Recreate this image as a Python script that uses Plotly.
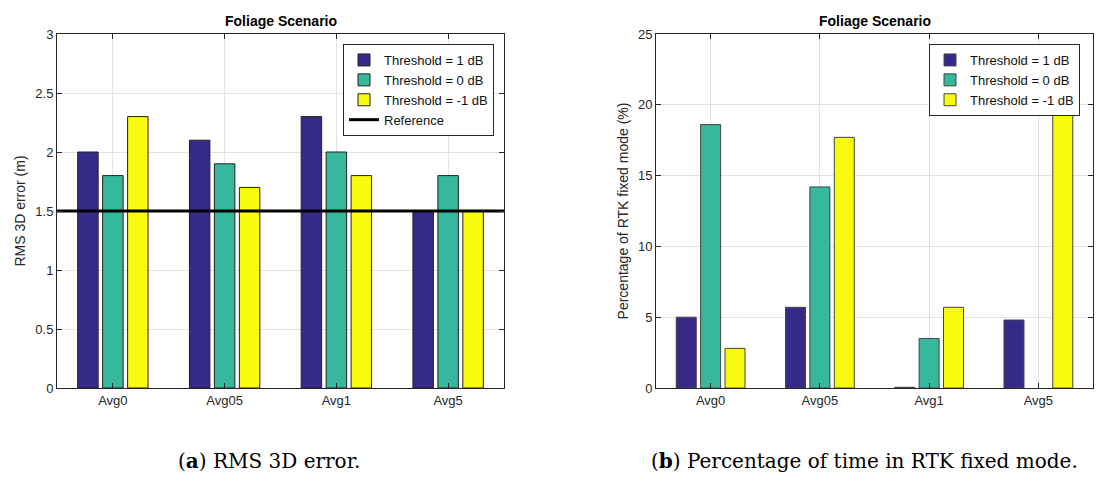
import plotly.graph_objects as go

categories = ["Avg0", "Avg05", "Avg1", "Avg5"]
series_names = ["Threshold = 1 dB", "Threshold = 0 dB", "Threshold = -1 dB"]
rms_1db = [2.0, 2.1, 2.3, 1.5]
rms_0db = [1.8, 1.9, 2.0, 1.8]
rms_m1db = [2.3, 1.7, 1.8, 1.5]
reference_rms = 1.5
rtk_1db = [5.0, 5.7, 0.05, 4.8]
rtk_0db = [18.6, 14.2, 3.5, None]
rtk_m1db = [2.8, 17.7, 5.7, 19.6]
rms_ticks = [0, 0.5, 1, 1.5, 2, 2.5, 3]
rtk_ticks = [0, 5, 10, 15, 20, 25]

colors = ["#352A87", "#37B89D", "#F9FB0E"]
xpos = list(range(len(categories)))

fig = go.Figure()
for name, vals, c in zip(series_names, [rms_1db, rms_0db, rms_m1db], colors):
    fig.add_trace(go.Bar(x=xpos, y=vals, name=name, marker=dict(color=c, line=dict(color="#222", width=1)),
                         xaxis="x", yaxis="y", legend="legend", offsetgroup=name))
fig.add_trace(go.Scatter(x=[-0.5, len(categories) - 0.5], y=[reference_rms, reference_rms], mode="lines",
                         name="Reference", line=dict(color="black", width=3), xaxis="x", yaxis="y",
                         legend="legend"))
for name, vals, c in zip(series_names, [rtk_1db, rtk_0db, rtk_m1db], colors):
    fig.add_trace(go.Bar(x=xpos, y=vals, name=name, marker=dict(color=c, line=dict(color="#444", width=1)),
                         xaxis="x2", yaxis="y2", legend="legend2", offsetgroup=name))

font = dict(family="Liberation Sans, Arial, sans-serif", size=13, color="#262626")
title_font = dict(family="Liberation Sans, Arial, sans-serif", size=14, color="#262626")
axis_common = dict(showline=True, linecolor="#262626", linewidth=1, mirror="ticks", ticks="inside",
                   ticklen=5, tickcolor="#262626", showgrid=True, gridcolor="#E3E3E3", gridwidth=1,
                   zeroline=False, tickfont=font, automargin=False)
ydom = [94 / 482, 448 / 482]
leg_font = dict(family="Liberation Sans, Arial, sans-serif", size=13, color="#111")
cap_font = dict(family="DejaVu Serif, serif", size=20, color="black")
ttl_font = dict(family="Liberation Sans, Arial, sans-serif", size=14, color="black")

fig.update_layout(
    template="none",
    width=1098, height=482, margin=dict(l=0, r=0, t=0, b=0, pad=0),
    paper_bgcolor="white", plot_bgcolor="white",
    barmode="group", bargap=0.33, bargroupgap=0.18,
    font=font,
    xaxis=dict(domain=[57 / 1098, 504 / 1098], range=[-0.5, 3.5], tickvals=xpos, ticktext=categories,
               anchor="y", **axis_common),
    yaxis=dict(domain=ydom, range=[0, 3], tickvals=rms_ticks, ticktext=[str(t) for t in rms_ticks],
               title=dict(text="RMS 3D error (m)", font=title_font, standoff=6), anchor="x", **axis_common),
    xaxis2=dict(domain=[656 / 1098, 1093 / 1098], range=[-0.5, 3.5], tickvals=xpos, ticktext=categories,
                anchor="y2", **axis_common),
    yaxis2=dict(domain=ydom, range=[0, 25], tickvals=rtk_ticks, ticktext=[str(t) for t in rtk_ticks],
                title=dict(text="Percentage of RTK fixed mode (%)", font=title_font, standoff=6), anchor="x2",
                **axis_common),
    legend=dict(x=494 / 1098, xanchor="right", y=1 - 44 / 482, yanchor="top", bgcolor="white",
                bordercolor="#262626", borderwidth=1, font=leg_font, tracegroupgap=0, itemwidth=30),
    legend2=dict(x=1080 / 1098, xanchor="right", y=1 - 44 / 482, yanchor="top", bgcolor="white",
                 bordercolor="#262626", borderwidth=1, font=leg_font, tracegroupgap=0, itemwidth=30),
    annotations=[
        dict(text="<b>Foliage Scenario</b>", x=(57 + 504) / 2 / 1098, y=1 - 21 / 482, xref="paper", yref="paper",
             xanchor="center", yanchor="middle", showarrow=False, font=ttl_font),
        dict(text="<b>Foliage Scenario</b>", x=(656 + 1093) / 2 / 1098, y=1 - 21 / 482, xref="paper", yref="paper",
             xanchor="center", yanchor="middle", showarrow=False, font=ttl_font),
        dict(text="(<b>a</b>) RMS 3D error.", x=269 / 1098, y=1 - 461 / 482, xref="paper", yref="paper",
             xanchor="center", yanchor="middle", showarrow=False, font=cap_font),
        dict(text="(<b>b</b>) Percentage of time in RTK fixed mode.", x=864 / 1098, y=1 - 461 / 482,
             xref="paper", yref="paper", xanchor="center", yanchor="middle", showarrow=False, font=cap_font),
    ],
)

fig.write_html("out.html")
